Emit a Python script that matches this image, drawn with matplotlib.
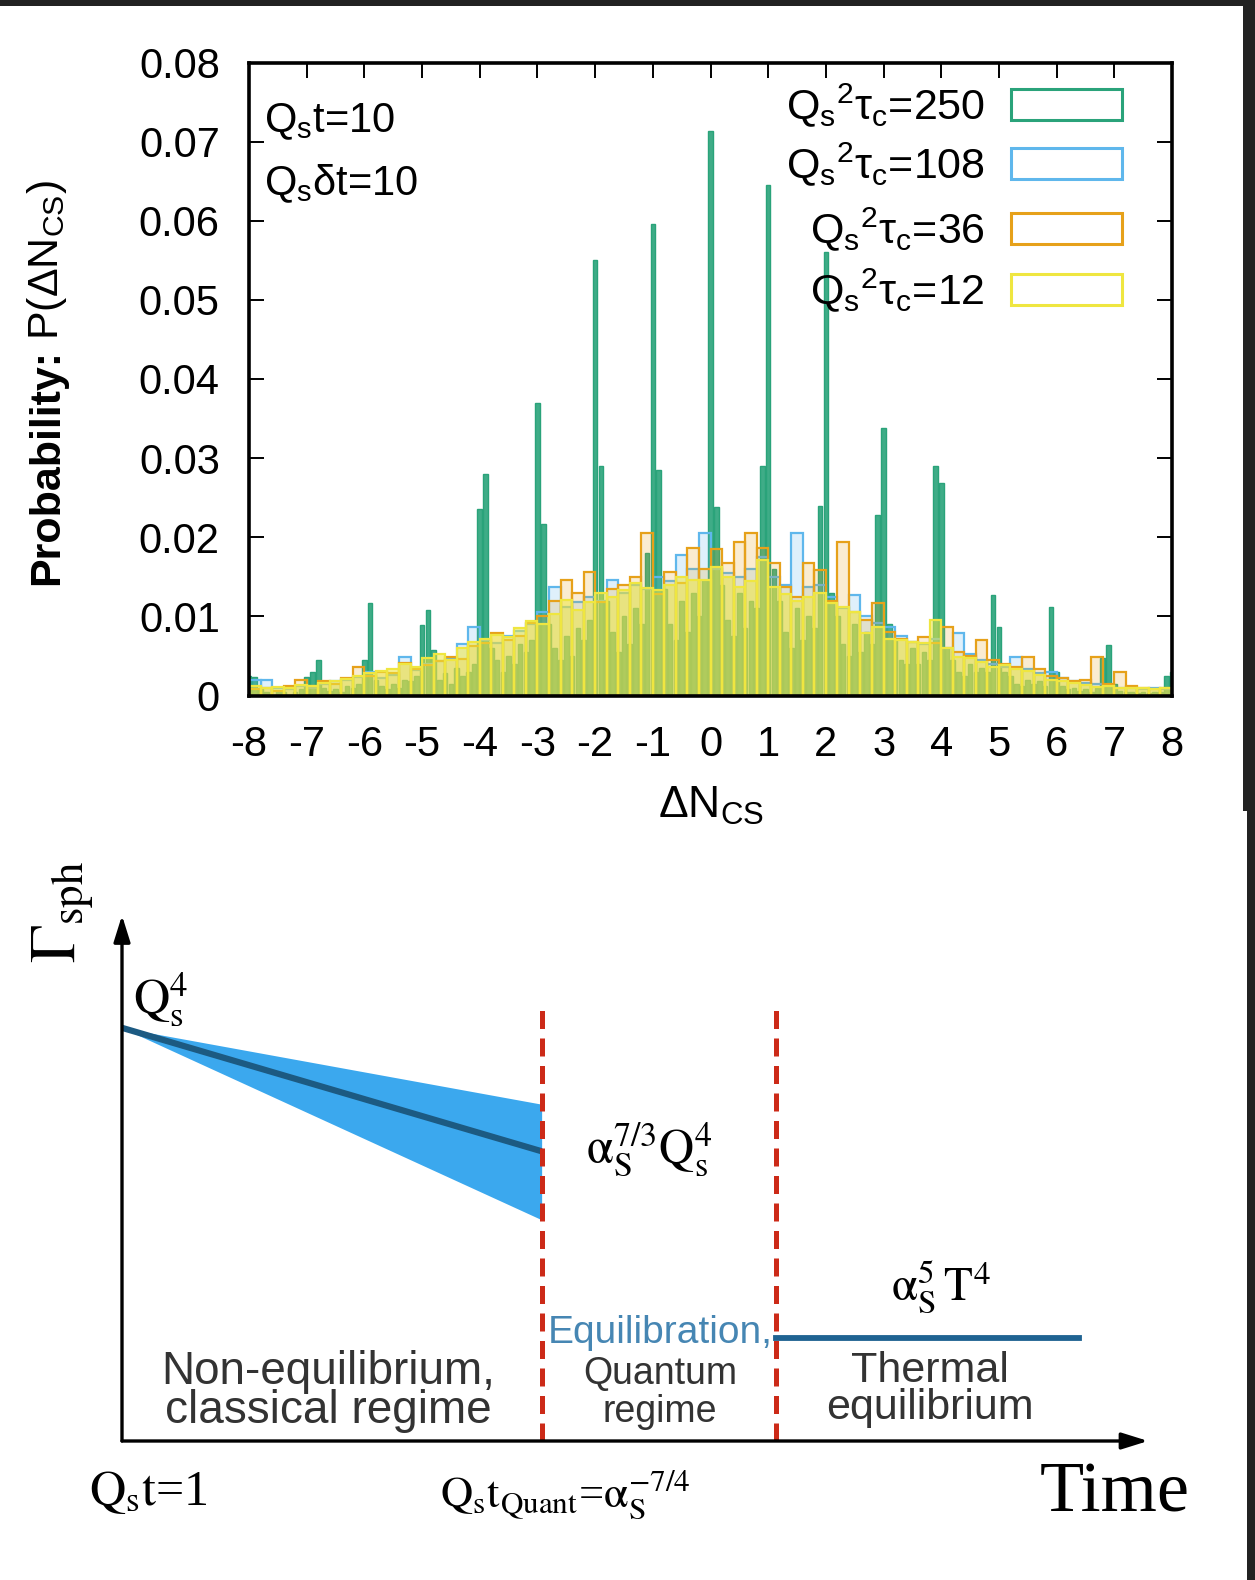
import numpy as np
import matplotlib.pyplot as plt
from matplotlib.patches import Rectangle
from matplotlib.colors import to_rgba

W, H = 1255, 1580

plt.rcParams['font.family'] = ['Liberation Sans', 'DejaVu Sans']
plt.rcParams['mathtext.fontset'] = 'custom'
plt.rcParams['mathtext.rm'] = 'Liberation Sans'
plt.rcParams['mathtext.it'] = 'Liberation Sans'
plt.rcParams['mathtext.bf'] = 'Liberation Sans:bold'
plt.rcParams['axes.unicode_minus'] = False

# ---- top panel: P(dN_CS) histograms ----
bin_edges = np.linspace(-8, 8, 81)   # width 0.2 for the three broad series
green_x = np.round(np.linspace(-8, 8, 161), 2)  # 0.1 bins for Qs^2 tau_c = 250

p_12 = [0.0012, 0.0010, 0.0011, 0.0009, 0.0013, 0.0012, 0.0016, 0.0018, 0.0021, 0.0025,
        0.0028, 0.0031, 0.0034, 0.0040, 0.0036, 0.0047, 0.0052, 0.0045, 0.0060, 0.0068,
        0.0072, 0.0077, 0.0074, 0.0085, 0.0094, 0.0090, 0.0103, 0.0121, 0.0108, 0.0118,
        0.0129, 0.0124, 0.0133, 0.0142, 0.0136, 0.0133, 0.0140, 0.0150, 0.0146, 0.0146,
        0.0163, 0.0150, 0.0137, 0.0145, 0.0171, 0.0137, 0.0128, 0.0120, 0.0125, 0.0130,
        0.0117, 0.0112, 0.0105, 0.0079, 0.0087, 0.0072, 0.0070, 0.0068, 0.0066, 0.0096,
        0.0060, 0.0049, 0.0047, 0.0042, 0.0036, 0.0038, 0.0033, 0.0031, 0.0026, 0.0020,
        0.0018, 0.0016, 0.0013, 0.0011, 0.0012, 0.0010, 0.0009, 0.0010, 0.0008, 0.0009]

p_36 = [0.0008, 0.0010, 0.0006, 0.0012, 0.0020, 0.0012, 0.0018, 0.0015, 0.0022, 0.0036,
        0.0025, 0.0030, 0.0028, 0.0041, 0.0034, 0.0038, 0.0044, 0.0049, 0.0046, 0.0062,
        0.0066, 0.0079, 0.0070, 0.0075, 0.0092, 0.0100, 0.0120, 0.0146, 0.0130, 0.0156,
        0.0118, 0.0135, 0.0140, 0.0150, 0.0205, 0.0128, 0.0156, 0.0142, 0.0186, 0.0160,
        0.0185, 0.0167, 0.0194, 0.0205, 0.0186, 0.0167, 0.0137, 0.0125, 0.0167, 0.0159,
        0.0120, 0.0194, 0.0105, 0.0095, 0.0117, 0.0080, 0.0072, 0.0068, 0.0074, 0.0066,
        0.0087, 0.0055, 0.0050, 0.0070, 0.0045, 0.0040, 0.0036, 0.0049, 0.0033, 0.0025,
        0.0022, 0.0018, 0.0020, 0.0049, 0.0015, 0.0030, 0.0012, 0.0010, 0.0008, 0.0010]

p_108 = [0.0020, 0.0020, 0.0010, 0.0008, 0.0012, 0.0010, 0.0014, 0.0018, 0.0020, 0.0024,
         0.0030, 0.0022, 0.0026, 0.0049, 0.0032, 0.0040, 0.0043, 0.0046, 0.0065, 0.0087,
         0.0070, 0.0066, 0.0075, 0.0082, 0.0090, 0.0105, 0.0137, 0.0112, 0.0118, 0.0125,
         0.0120, 0.0146, 0.0130, 0.0140, 0.0135, 0.0150, 0.0145, 0.0177, 0.0160, 0.0205,
         0.0160, 0.0155, 0.0150, 0.0160, 0.0175, 0.0150, 0.0140, 0.0205, 0.0137, 0.0140,
         0.0125, 0.0110, 0.0127, 0.0100, 0.0092, 0.0087, 0.0075, 0.0068, 0.0065, 0.0072,
         0.0060, 0.0079, 0.0052, 0.0045, 0.0040, 0.0036, 0.0049, 0.0033, 0.0028, 0.0030,
         0.0022, 0.0018, 0.0016, 0.0014, 0.0012, 0.0010, 0.0009, 0.0008, 0.0009, 0.0008]

p_250 = [0.0025, 0.0024, 0.0008, 0.0005, 0.0000, 0.0006, 0.0004, 0.0000, 0.0005, 0.0008,
         0.0024, 0.0030, 0.0045, 0.0010, 0.0006, 0.0008, 0.0004, 0.0012, 0.0010, 0.0015,
         0.0045, 0.0117, 0.0020, 0.0012, 0.0008, 0.0015, 0.0010, 0.0020, 0.0018, 0.0025,
         0.0089, 0.0108, 0.0058, 0.0020, 0.0028, 0.0015, 0.0035, 0.0025, 0.0030, 0.0040,
         0.0236, 0.0280, 0.0060, 0.0045, 0.0030, 0.0050, 0.0040, 0.0065, 0.0055, 0.0070,
         0.0370, 0.0217, 0.0090, 0.0060, 0.0045, 0.0075, 0.0050, 0.0085, 0.0070, 0.0095,
         0.0550, 0.0290, 0.0120, 0.0080, 0.0055, 0.0100, 0.0065, 0.0110, 0.0090, 0.0180,
         0.0596, 0.0285, 0.0135, 0.0090, 0.0070, 0.0120, 0.0080, 0.0130, 0.0100, 0.0146,
         0.0713, 0.0238, 0.0140, 0.0095, 0.0075, 0.0130, 0.0085, 0.0120, 0.0110, 0.0290,
         0.0645, 0.0160, 0.0120, 0.0080, 0.0060, 0.0110, 0.0070, 0.0100, 0.0085, 0.0240,
         0.0560, 0.0130, 0.0100, 0.0065, 0.0050, 0.0090, 0.0055, 0.0080, 0.0065, 0.0228,
         0.0338, 0.0090, 0.0070, 0.0045, 0.0040, 0.0060, 0.0040, 0.0055, 0.0045, 0.0290,
         0.0269, 0.0060, 0.0045, 0.0030, 0.0025, 0.0040, 0.0030, 0.0035, 0.0030, 0.0127,
         0.0087, 0.0030, 0.0025, 0.0015, 0.0012, 0.0020, 0.0015, 0.0018, 0.0012, 0.0112,
         0.0030, 0.0012, 0.0008, 0.0010, 0.0006, 0.0008, 0.0005, 0.0010, 0.0048, 0.0064,
         0.0015, 0.0006, 0.0004, 0.0005, 0.0003, 0.0004, 0.0003, 0.0004, 0.0005, 0.0025,
         0.0030]

series_labels = [r'Q$_\mathregular{s}{}^\mathregular{2}$τ$_\mathregular{c}$=250',
                 r'Q$_\mathregular{s}{}^\mathregular{2}$τ$_\mathregular{c}$=108',
                 r'Q$_\mathregular{s}{}^\mathregular{2}$τ$_\mathregular{c}$=36',
                 r'Q$_\mathregular{s}{}^\mathregular{2}$τ$_\mathregular{c}$=12']
series_colors = ['#2aa37a', '#5fb7ec', '#e6a11a', '#efe640']

x_ticks = np.arange(-8, 9)
y_ticks = [0, 0.01, 0.02, 0.03, 0.04, 0.05, 0.06, 0.07, 0.08]
y_ticklabels = ['0', '0.01', '0.02', '0.03', '0.04', '0.05', '0.06', '0.07', '0.08']

# ---- bottom panel: sphaleron-rate schematic (arbitrary units) ----
t_quant = 4.11
t_therm = 6.41
t_end = 9.37
classical_t = [0.0, t_quant]
classical_rate = [7.9, 5.54]
band_upper = [7.9, 6.44]
band_lower = [7.9, 4.23]
thermal_rate = 1.97
divider_top = 8.3


def fx(px):
    return px / W


def fy(py):
    return 1 - py / H


fig = plt.figure(figsize=(W / 100, H / 100), dpi=100)

# dark frame bits of the screenshot
dark = '#222222'
fig.add_artist(Rectangle((0, fy(6)), 1, 6 / H, transform=fig.transFigure, color=dark, lw=0))
fig.add_artist(Rectangle((fx(1243), fy(811)), 12 / W, 811 / H, transform=fig.transFigure, color=dark, lw=0))
fig.add_artist(Rectangle((fx(1247), 0), 8 / W, (H - 811) / H, transform=fig.transFigure, color=dark, lw=0))

ax = fig.add_axes([fx(249), fy(695.5), (1172 - 249) / W, (695.5 - 62.5) / H])
widths = np.diff(bin_edges)
ax.bar(green_x, p_250, width=0.08, facecolor=to_rgba(series_colors[0], 0.9),
       edgecolor=series_colors[0], lw=1.0, zorder=1)
ax.bar(bin_edges[:-1], p_108, width=widths, align='edge', facecolor=to_rgba(series_colors[1], 0.2),
       edgecolor=series_colors[1], lw=1.6, zorder=2)
ax.bar(bin_edges[:-1], p_36, width=widths, align='edge', facecolor=to_rgba(series_colors[2], 0.2),
       edgecolor=series_colors[2], lw=1.6, zorder=3)
ax.bar(bin_edges[:-1], p_12, width=widths, align='edge', facecolor=to_rgba(series_colors[3], 0.55),
       edgecolor=series_colors[3], lw=1.6, zorder=4)

ax.set_xlim(-8, 8)
ax.set_ylim(0, 0.08)
ax.set_xticks(x_ticks)
ax.set_xticklabels([str(v) for v in x_ticks])
ax.set_yticks(y_ticks)
ax.set_yticklabels(y_ticklabels)
ax.tick_params(direction='in', length=11, width=1.4, top=True, right=True,
               labelsize=30, pad=21)
for sp in ax.spines.values():
    sp.set_linewidth(2.6)
    sp.set_zorder(10)

ax.text(0.016, 0.907, r'Q$_\mathregular{s}$t=10', transform=ax.transAxes, fontsize=30,
        va='center', ha='left')
ax.text(0.016, 0.808, r'Q$_\mathregular{s}$δt=10', transform=ax.transAxes, fontsize=30,
        va='center', ha='left')

leg_y = [0.933, 0.840, 0.737, 0.641]
for lab, col, yc in zip(series_labels, series_colors, leg_y):
    ax.text(0.797, yc, lab, transform=ax.transAxes, fontsize=31, ha='right', va='center', zorder=12)
    ax.add_patch(Rectangle((0.8256, yc - 0.0245), 0.1202, 0.049, transform=ax.transAxes,
                           fill=False, edgecolor=col, lw=2.2, zorder=12))

fig.text(fx(711), fy(806), r'ΔN$_\mathregular{CS}$', fontsize=32, ha='center', va='center')

# y label: bold part + normal part
t1 = fig.text(fx(58), fy(585), 'Probability:', fontsize=31, fontweight='bold', rotation=90,
              rotation_mode='anchor', ha='left', va='baseline')
fig.canvas.draw()
bb = t1.get_window_extent()
fig.text(fx(58), (bb.y1 + 9) / H, r'P(ΔN$_\mathregular{CS}$)', fontsize=31, rotation=90,
         rotation_mode='anchor', ha='left', va='baseline')

# ---- bottom schematic ----
bx = fig.add_axes([fx(122), fy(1441), (1143 - 122) / W, (1441 - 918) / H])
bx.set_xlim(0, 10)
bx.set_ylim(0, 10)
bx.axis('off')

bx.fill_between(classical_t, band_lower, band_upper, color='#3ba8ee', lw=0, zorder=1)
bx.plot(classical_t, classical_rate, color='#1c5a82', lw=4.5, solid_capstyle='butt', zorder=2)
bx.plot([t_therm, t_end], [thermal_rate, thermal_rate], color='#1f6392', lw=4.2, zorder=2)
for tv in [t_quant, t_therm]:
    bx.plot([tv, tv], [0, divider_top], color='#cc2a18', lw=3.6, linestyle=(0, (3.6, 1.9)), zorder=3)

arrow = dict(arrowstyle='-|>,head_length=1.6,head_width=0.5', lw=2.4, color='black',
             shrinkA=0, shrinkB=0)
bx.annotate('', xy=(0, 10.05), xytext=(0, 0), arrowprops=arrow, annotation_clip=False)
bx.annotate('', xy=(10.05, 0), xytext=(0, 0), arrowprops=arrow, annotation_clip=False)

serif = 'Liberation Serif'
bx.text(-0.45, 9.14, r'$\Gamma_\mathrm{sph}$', fontsize=46, rotation=90, rotation_mode='anchor',
        ha='left', va='baseline', family=serif, math_fontfamily='stix')
bx.text(0.38, 8.43, r'$\mathrm{Q}_\mathrm{s}^\mathrm{4}$', fontsize=36, ha='center', va='center',
        family=serif, math_fontfamily='stix')
bx.text(5.17, 5.56, r'$\mathrm{\alpha}_\mathrm{S}^{7/3}\mathrm{Q}_\mathrm{s}^{4}$', fontsize=35,
        ha='center', va='center', family=serif, math_fontfamily='stix')
bx.text(8.02, 2.96, r'$\mathrm{\alpha}_\mathrm{S}^{5}\,\mathrm{T}^{4}$', fontsize=34,
        ha='center', va='center', family=serif, math_fontfamily='stix')

bx.text(5.27, 2.07, 'Equilibration,', fontsize=28, color='#4686b3', ha='center', va='center')
bx.text(5.27, 0.92, 'Quantum\nregime', fontsize=27, color='#333333', ha='center', va='center',
        linespacing=1.08)
bx.text(2.02, 0.94, 'Non-equilibrium,\nclassical regime', fontsize=33, color='#333333',
        ha='center', va='center', linespacing=0.85)
bx.text(7.91, 0.98, 'Thermal\nequilibrium', fontsize=31, color='#333333', ha='center',
        va='center', linespacing=0.9)

bx.text(0.26, -0.98, r'$\mathrm{Q}_\mathrm{s}\mathrm{t}$=1', fontsize=36, ha='center', va='center',
        family=serif, math_fontfamily='stix')
bx.text(3.11, -1.03, r'$\mathrm{Q}_\mathrm{s}\mathrm{t}_\mathrm{Quant}$=$\mathrm{\alpha}_\mathrm{S}^{-7/4}$',
        fontsize=32, ha='left', va='center', family=serif, math_fontfamily='stix')
bx.text(9.72, -1.01, 'Time', fontsize=52, ha='center', va='center', family=serif)

fig.savefig('out.png', dpi=100)
